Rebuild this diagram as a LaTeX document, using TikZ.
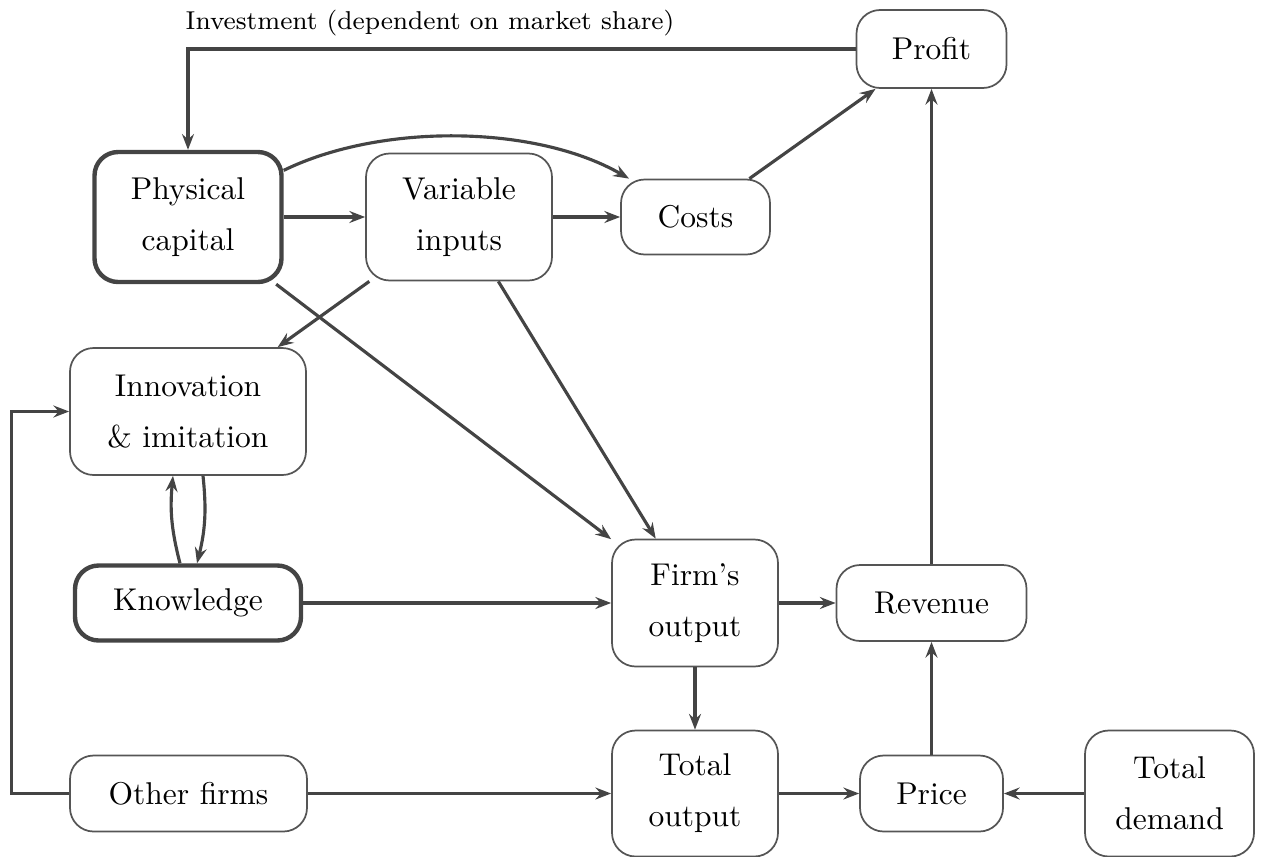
\documentclass[tikz,border=0pt]{standalone}
\usetikzlibrary{arrows.meta,calc}
\newdimen\pxu \pxu=0.3175pt
\definecolor{linegray}{HTML}{444444}
\definecolor{boxgray}{HTML}{555555}
\tikzset{
  box/.style={draw=boxgray, line width=0.55pt, rounded corners=7.5pt, inner sep=0pt,
    align=center, font=\fontsize{10pt}{16.2pt}\selectfont},
  heavy/.style={line width=1.4pt, draw=linegray},
  sz/.style 2 args={minimum width=#1*\pxu, minimum height=#2*\pxu},
  arr/.style={draw=linegray, line width=1pt,
    -{Stealth[length=5pt, width=3.8pt, inset=1.7pt]}},
  lbl/.style={inner sep=0pt, font=\fontsize{8.2pt}{10pt}\selectfont},
}
\begin{document}
\begin{tikzpicture}[x=0.3175pt, y=-0.3175pt]
\useasboundingbox (0,0) rectangle (1268,856);

% firm-level boxes
\node[box, sz={150}{78}] (profit) at (931.5,49) {Profit};
\node[box, heavy, sz={187}{130}] (phys) at (188,217) {Physical\\capital};
\node[box, sz={186}{127}] (var) at (459,217) {Variable\\inputs};
\node[box, sz={149}{75}] (costs) at (695.5,217) {Costs};
\node[box, sz={236}{127}] (innov) at (188,411.5) {Innovation\\\& imitation};
\node[box, heavy, sz={226}{75}] (know) at (188,603) {Knowledge};
\node[box, sz={166}{127}] (firm) at (695,603) {Firm's\\output};
\node[box, sz={190}{76}] (rev) at (931.5,603) {Revenue};

% market-level boxes
\node[box, sz={166}{126}] (total) at (695,793.5) {Total\\output};
\node[box, sz={237}{76}] (other) at (188.5,793.5) {Other firms};
\node[box, sz={143}{76}] (price) at (931.5,793.5) {Price};
\node[box, sz={169}{126}] (demand) at (1169.5,793.5) {Total\\demand};

% investment loop back into capital
\coordinate (inv) at (phys.north |- profit.west);
\draw[arr] (profit.west) -- (inv) -- (phys.north);
\node[lbl, anchor=base west] (invlbl) at ($(inv)+(-3,-20)$)
  {Investment (dependent on market share)};

% production and costs
\draw[arr] (phys) to[out=26, in=150, looseness=0.8] (costs);
\draw[arr] (phys) -- (var);
\draw[arr] (var) -- (costs);
\draw[arr] (costs) -- (profit);
\draw[arr] (rev) -- (profit);
\draw[arr] (phys) -- (firm);
\draw[arr] (var) -- (firm);
\draw[arr] (var) -- (innov);

% knowledge feedback
\draw[arr] ($(know.north)+(-8,0)$) to[bend left=10] ($(innov.south)+(-15,0)$);
\draw[arr] ($(innov.south)+(15,0)$) to[bend left=10] ($(know.north)+(9,0)$);
\draw[arr] (know) -- (firm);

% market
\draw[arr] (firm) -- (rev);
\draw[arr] (firm) -- (total);
\draw[arr] (other) -- (total);
\draw[arr] (total) -- (price);
\draw[arr] (demand) -- (price);
\draw[arr] (price) -- (rev);

% spillover from other firms
\coordinate (loop) at ($(other.west)+(-58,0)$);
\draw[arr] (other.west) -- (loop) |- (innov.west);
\end{tikzpicture}
\end{document}
